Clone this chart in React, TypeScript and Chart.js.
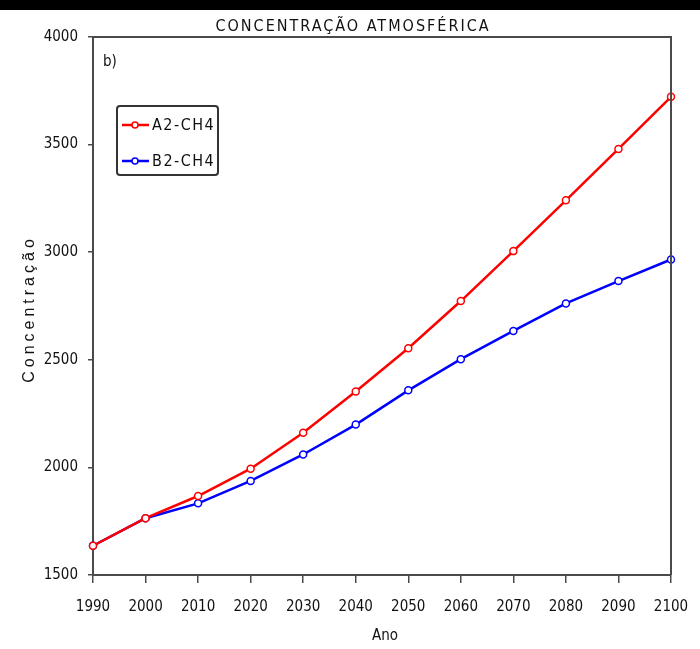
import React, { useEffect, useRef } from "react";
import { Chart, registerables } from "chart.js";

Chart.register(...registerables);

const TITLE = "CONCENTRAÇÃO ATMOSFÉRICA";
const PANEL_LABEL = "b)";
const X_TITLE = "Ano";
const Y_TITLE = "Concentração";
const YEARS = ["1990", "2000", "2010", "2020", "2030", "2040", "2050", "2060", "2070", "2080", "2090", "2100"];
const A2_CH4 = [1636, 1764, 1867, 1994, 2161, 2353, 2554, 2773, 3005, 3241, 3480, 3722];
const B2_CH4 = [1636, 1764, 1833, 1937, 2060, 2199, 2358, 2503, 2634, 2762, 2866, 2966];
const SERIES_LABELS = ["A2-CH4", "B2-CH4"];
const SERIES_COLORS = ["#ff0000", "#0000ff"];

const NARROW = "'DejaVu Sans Condensed', 'Liberation Sans', sans-serif";
const AXIS_COLOR = "#4a4a4a";

const decorPlugin = {
  id: "decor",
  beforeDraw(chart: any) {
    const { ctx, width, height } = chart;
    ctx.save();
    ctx.fillStyle = "#ffffff";
    ctx.fillRect(0, 0, width, height);
    ctx.fillStyle = "#000000";
    ctx.fillRect(0, 0, width, 10);
    ctx.restore();
  },
  afterDraw(chart: any) {
    const { ctx, chartArea } = chart;
    const { left, right, top, bottom } = chartArea;
    ctx.save();
    ctx.strokeStyle = AXIS_COLOR;
    ctx.lineWidth = 2;
    ctx.beginPath();
    ctx.moveTo(left, top);
    ctx.lineTo(right, top);
    ctx.lineTo(right, bottom);
    ctx.stroke();

    ctx.fillStyle = "#111";
    ctx.textAlign = "center";
    ctx.textBaseline = "middle";
    (ctx as any).letterSpacing = "2px";
    ctx.font = `16px ${NARROW}`;
    ctx.fillText(TITLE, 353, 27);

    (ctx as any).letterSpacing = "0px";
    ctx.textAlign = "left";
    ctx.font = `15px ${NARROW}`;
    ctx.fillText(PANEL_LABEL, left + 10, top + 25);

    ctx.textAlign = "center";
    ctx.font = `15px ${NARROW}`;
    ctx.fillText(X_TITLE, (left + right) / 2 + 3, 636);

    ctx.save();
    ctx.translate(30, (top + bottom) / 2 + 3);
    ctx.rotate(-Math.PI / 2);
    (ctx as any).letterSpacing = "4px";
    ctx.font = `16px 'Liberation Sans', Arial, sans-serif`;
    ctx.fillText(Y_TITLE, 0, 0);
    ctx.restore();

    const bx = left + 24, by = top + 69, bw = 101, bh = 69;
    ctx.strokeStyle = "#333";
    ctx.lineWidth = 2;
    ctx.beginPath();
    if ((ctx as any).roundRect) (ctx as any).roundRect(bx, by, bw, bh, 3);
    else ctx.rect(bx, by, bw, bh);
    ctx.stroke();
    chart.data.datasets.forEach((ds: any, i: number) => {
      const y = by + 19 + i * 36;
      ctx.strokeStyle = ds.borderColor;
      ctx.lineWidth = 2.5;
      ctx.beginPath();
      ctx.moveTo(bx + 5, y);
      ctx.lineTo(bx + 32, y);
      ctx.stroke();
      ctx.fillStyle = "#fff";
      ctx.lineWidth = 1.5;
      ctx.beginPath();
      ctx.arc(bx + 18, y, 3, 0, Math.PI * 2);
      ctx.fill();
      ctx.stroke();
      ctx.fillStyle = "#111";
      ctx.textAlign = "left";
      ctx.textBaseline = "middle";
      (ctx as any).letterSpacing = "1.5px";
      ctx.font = `16px ${NARROW}`;
      ctx.fillText(ds.label, bx + 35, y + 1);
    });
    ctx.restore();
  },
};

export default function App() {
  const ref = useRef<HTMLCanvasElement | null>(null);
  useEffect(() => {
    document.body.style.margin = "0";
    const canvas = ref.current;
    if (!canvas) return;
    const chart = new Chart(canvas, {
      type: "line",
      data: {
        labels: YEARS,
        datasets: [A2_CH4, B2_CH4].map((d, i) => ({
          label: SERIES_LABELS[i],
          data: d,
          borderColor: SERIES_COLORS[i],
          backgroundColor: "#ffffff",
          borderWidth: 2.5,
          pointRadius: 3.5,
          pointBorderWidth: 1.5,
          pointBackgroundColor: "#ffffff",
          pointBorderColor: SERIES_COLORS[i],
          tension: 0,
          fill: false,
        })),
      },
      options: {
        animation: false,
        responsive: false,
        maintainAspectRatio: false,
        layout: { padding: { top: 37, right: 29, left: 0, bottom: 0 } },
        plugins: {
          legend: { display: false },
          title: { display: false },
          tooltip: { enabled: false },
        },
        scales: {
          x: {
            type: "category",
            offset: false,
            afterFit: (s: any) => {
              s.height = 74;
              s.paddingRight = 0;
              s.paddingLeft = 0;
            },
            grid: {
              drawOnChartArea: false,
              drawTicks: true,
              tickLength: 8,
              color: AXIS_COLOR,
              lineWidth: 1.5,
            },
            border: { display: true, color: AXIS_COLOR, width: 2 },
            ticks: {
              color: "#111",
              font: { family: NARROW, size: 15 },
              padding: 15,
              maxRotation: 0,
              autoSkip: false,
            },
          },
          y: {
            type: "linear",
            min: 1500,
            max: 4000,
            afterFit: (s: any) => {
              s.width = 93;
              s.paddingTop = 0;
              s.paddingBottom = 0;
            },
            grid: {
              drawOnChartArea: false,
              drawTicks: true,
              tickLength: 5,
              color: AXIS_COLOR,
              lineWidth: 1.5,
            },
            border: { display: true, color: AXIS_COLOR, width: 2 },
            ticks: {
              stepSize: 500,
              color: "#111",
              font: { family: NARROW, size: 15 },
              padding: 10,
              callback: (v: any) => String(v),
            },
          },
        },
      },
      plugins: [decorPlugin],
    });
    return () => chart.destroy();
  }, []);
  return (
    <div style={{ width: 700, height: 649 }}>
      <canvas ref={ref} width={700} height={649} style={{ display: "block", width: 700, height: 649 }} />
    </div>
  );
}
